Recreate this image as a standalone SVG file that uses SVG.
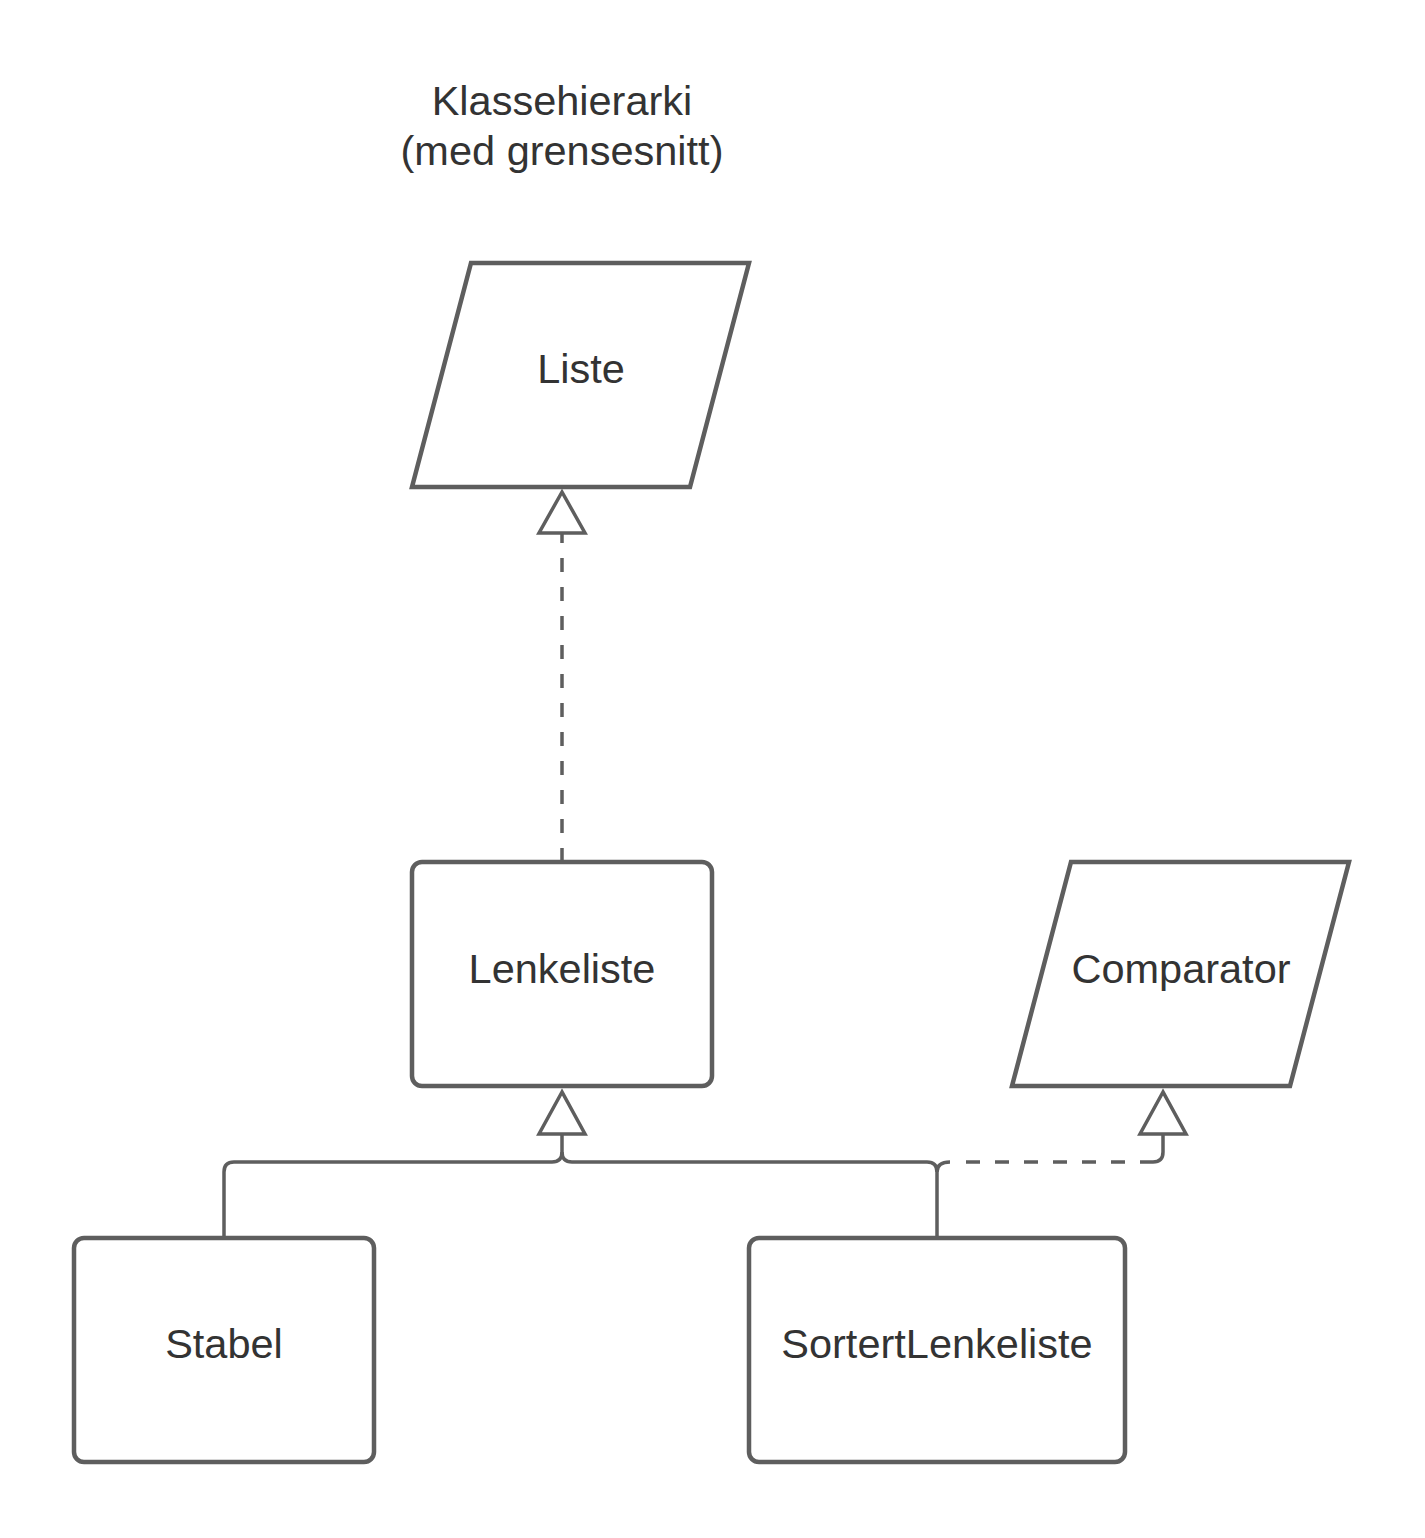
<svg xmlns="http://www.w3.org/2000/svg" width="1425" height="1538" viewBox="0 0 1425 1538">
<style>
.node{fill:#ffffff;stroke:#5e5e5e;stroke-width:4.5;stroke-linejoin:miter}
.lbl{font-family:"Liberation Sans",Arial,sans-serif;font-size:41.5px;fill:#333333;text-anchor:middle}
.edge{fill:none;stroke:#5e5e5e;stroke-width:3.5}
.dash{stroke-dasharray:14 15}
.head{fill:#ffffff;stroke:#5e5e5e;stroke-width:3.5;stroke-linejoin:miter}
</style>
<rect width="1425" height="1538" fill="#ffffff"/>
<g id="title">
<text class="lbl" x="562" y="115">Klassehierarki</text>
<text class="lbl" x="562" y="165">(med grensesnitt)</text>
</g>
<g id="connectors">
<path class="edge dash" d="M562,862 V533"/>
<polygon class="head" points="562,492 539,533 585,533"/>
<path class="edge" d="M224,1238 V1172 Q224,1162 234,1162 H552 Q562,1162 562,1152 V1135"/>
<path class="edge" d="M937,1238 V1172 Q937,1162 927,1162 H572 Q562,1162 562,1152"/>
<polygon class="head" points="562,1092 539,1134 585,1134"/>
<path class="edge" d="M937,1172 Q937,1162 950,1162"/>
<path class="edge dash" d="M966,1162 H1150" style="stroke-dashoffset:0"/>
<path class="edge" d="M1150,1162 H1153 Q1163,1162 1163,1152 V1134"/>
<polygon class="head" points="1163,1092 1140,1134 1186,1134"/>
</g>
<g id="Liste">
<polygon class="node" points="471,263 749,263 690,487 412,487"/>
<text class="lbl" x="581" y="383">Liste</text>
</g>
<g id="Lenkeliste">
<rect class="node" x="412" y="862" width="300" height="224" rx="10"/>
<text class="lbl" x="562" y="983">Lenkeliste</text>
</g>
<g id="Comparator">
<polygon class="node" points="1071,862 1349,862 1290,1086 1012,1086"/>
<text class="lbl" x="1181" y="983">Comparator</text>
</g>
<g id="Stabel">
<rect class="node" x="74" y="1238" width="300" height="224" rx="10"/>
<text class="lbl" x="224" y="1358">Stabel</text>
</g>
<g id="SortertLenkeliste">
<rect class="node" x="749" y="1238" width="376" height="224" rx="10"/>
<text class="lbl" x="937" y="1358">SortertLenkeliste</text>
</g>
</svg>
